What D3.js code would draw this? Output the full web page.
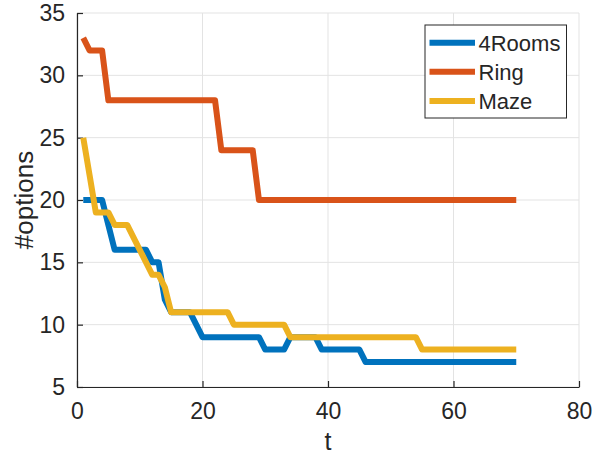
<!DOCTYPE html>
<html>
<head>
<meta charset="utf-8">
<script src="https://cdn.jsdelivr.net/npm/d3@7"></script>
<style>
  body { margin: 0; background: #fff; }
  svg { display: block; }
  text { font-family: "Liberation Sans", Arial, Helvetica, sans-serif; fill: #262626; }
</style>
</head>
<body>
<svg id="chart" width="595" height="457"></svg>
<script>
const t = d3.range(1, 71);
const rooms4 = [20,20,20,20,18,16,16,16,16,16,16,15,15,12,11,11,11,11,10,9,
  9,9,9,9,9,9,9,9,9,8,8,8,8,9,9,9,9,9,8,8,
  8,8,8,8,8,7,7,7,7,7,7,7,7,7,7,7,7,7,7,7,
  7,7,7,7,7,7,7,7,7,7];
const ring = [33,32,32,32,28,28,28,28,28,28,28,28,28,28,28,28,28,28,28,28,
  28,28,24,24,24,24,24,24,20,20,20,20,20,20,20,20,20,20,20,20,
  20,20,20,20,20,20,20,20,20,20,20,20,20,20,20,20,20,20,20,20,
  20,20,20,20,20,20,20,20,20,20];
const maze = [25,22,19,19,19,18,18,18,17,16,15,14,14,13,11,11,11,11,11,11,
  11,11,11,11,10,10,10,10,10,10,10,10,10,9,9,9,9,9,9,9,
  9,9,9,9,9,9,9,9,9,9,9,9,9,9,8,8,8,8,8,8,
  8,8,8,8,8,8,8,8,8,8];
const seriesNames = ["4Rooms", "Ring", "Maze"];
const seriesData = [rooms4, ring, maze];
const colors = ["#0072BD", "#D95319", "#EDB120"];
const xTicks = [0, 20, 40, 60, 80];
const yTicks = [5, 10, 15, 20, 25, 30, 35];

const svg = d3.select("#chart");
const L = 77, R = 579, T = 13, B = 387;
const x = d3.scaleLinear().domain([0, 80]).range([L, R]);
const y = d3.scaleLinear().domain([5, 35]).range([B, T]);

// grid
const grid = svg.append("g").attr("stroke", "#e3e3e3").attr("stroke-width", 1);
xTicks.forEach(v => grid.append("line").attr("x1", x(v)).attr("x2", x(v)).attr("y1", T).attr("y2", B));
yTicks.forEach(v => grid.append("line").attr("x1", L).attr("x2", R).attr("y1", y(v)).attr("y2", y(v)));

// axes
const xAxis = d3.axisBottom(x).tickValues(xTicks).tickSizeInner(-6).tickSizeOuter(0).tickPadding(16);
const yAxis = d3.axisLeft(y).tickValues(yTicks).tickSizeInner(-6).tickSizeOuter(0).tickPadding(12);
const gx = svg.append("g").attr("transform", `translate(0,${B})`).call(xAxis);
const gy = svg.append("g").attr("transform", `translate(${L},0)`).call(yAxis);
[gx, gy].forEach(g => {
  g.select(".domain").attr("stroke", "#262626").attr("stroke-width", 1.2);
  g.selectAll(".tick line").attr("stroke", "#262626").attr("stroke-width", 1.2);
  g.selectAll(".tick text").attr("font-size", 23).attr("fill", "#262626")
    .style("font-family", "'Liberation Sans', Arial, sans-serif");
});
gx.selectAll(".tick text").attr("dy", "0.71em");

// lines
const line = d3.line().x((d, i) => x(t[i])).y(d => y(d));
seriesData.forEach((s, k) => {
  svg.append("path").datum(s).attr("d", line)
    .attr("fill", "none").attr("stroke", colors[k]).attr("stroke-width", 6)
    .attr("stroke-linejoin", "round");
});

// labels
svg.append("text").attr("x", (L + R) / 2).attr("y", 450).attr("text-anchor", "middle")
  .attr("font-size", 25).text("t");
svg.append("text").attr("transform", `translate(33,${(T + B) / 2}) rotate(-90)`)
  .attr("text-anchor", "middle").attr("font-size", 26).text("#options");

// legend
const lg = svg.append("g");
lg.append("rect").attr("x", 425).attr("y", 25).attr("width", 141.5).attr("height", 93)
  .attr("fill", "#fff").attr("stroke", "#262626").attr("stroke-width", 1);
const ly = [42.7, 71.7, 101];
seriesNames.forEach((n, k) => {
  lg.append("line").attr("x1", 429.5).attr("x2", 475).attr("y1", ly[k]).attr("y2", ly[k])
    .attr("stroke", colors[k]).attr("stroke-width", 6);
  lg.append("text").attr("x", 478.5).attr("y", ly[k]).attr("dy", "0.36em")
    .attr("font-size", 22).attr("fill", "#000").text(n);
});
</script>
</body>
</html>
